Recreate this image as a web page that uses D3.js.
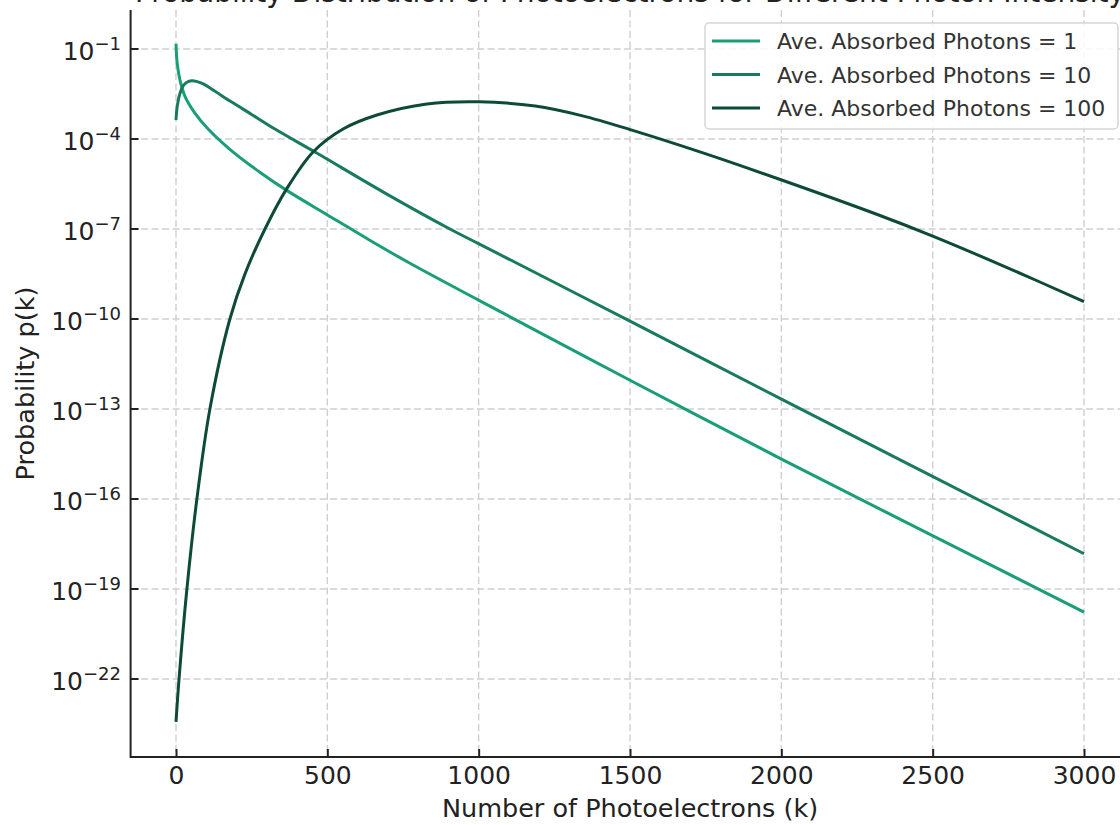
<!DOCTYPE html>
<html>
<head>
<meta charset="utf-8">
<script src="https://cdn.jsdelivr.net/npm/d3@7"></script>
<style>
  body { margin: 0; background: #fff; }
  svg { display: block; font-family: "DejaVu Sans", sans-serif; }
</style>
</head>
<body>
<div id="chart"></div>
<script>
/* ---------- data ---------- */
let seriesNames = ["Ave. Absorbed Photons = 1", "Ave. Absorbed Photons = 10", "Ave. Absorbed Photons = 100"];
let seriesColors = ["#1a9e77", "#187a5e", "#0d4a38"];

let kLight = [0, 4, 13, 30, 63, 107, 173, 277, 367, 499, 631, 773, 1001, 1500, 2002, 2501, 3000];
let pLight = [1.5e-1, 3.3e-2, 9.3e-3, 2.6e-3, 7.2e-4, 2.1e-4, 5.0e-5, 7.8e-6, 1.9e-6, 3.0e-7, 4.8e-8, 7.2e-9, 4.2e-10, 9.1e-13, 2.1e-15, 5.9e-18, 1.7e-20];

let kMid = [0, 4, 13, 24, 36, 52, 70, 90, 129, 184, 250, 327, 465, 685, 905, 1001, 1500, 2002, 2501, 3000];
let pMid = [4.3e-4, 1.2e-3, 3.3e-3, 6.0e-3, 7.8e-3, 8.7e-3, 8.2e-3, 6.9e-3, 3.9e-3, 1.7e-3, 6.6e-4, 2.15e-4, 3.4e-5, 1.7e-6, 1.0e-7, 3.2e-8, 8.5e-11, 2.1e-13, 5.6e-16, 1.5e-18];

let kDark = [0, 10, 36, 69, 112, 178, 228, 294, 367, 453, 552, 664, 829, 1001, 1187, 1340, 1498, 1751, 2001, 2315, 2500, 2738, 3000];
let pDark = [3.7e-24, 1e-22, 1e-19, 1e-16, 1e-13, 1e-10, 3.2e-9, 1e-7, 2.3e-6, 3.7e-5, 2.15e-4, 6.3e-4, 1.47e-3, 1.74e-3, 1.25e-3, 6.0e-4, 2.1e-4, 3.2e-5, 4.3e-6, 3.1e-7, 5.8e-8, 5.6e-9, 3.8e-10];

let xTicks = [0, 500, 1000, 1500, 2000, 2500, 3000];
let yTickExps = [-1, -4, -7, -10, -13, -16, -19, -22];

let titleText = "Probability Distribution of Photoelectrons for Different Photon Intensity";
let xLabel = "Number of Photoelectrons (k)";
let yLabel = "Probability p(k)";

/* ---------- canvas ---------- */
let width = 1120, height = 825;
let plot = {left: 130.6, right: 1129.4, top: 10, bottom: 757};

let svg = d3.select("#chart").append("svg")
    .attr("width", width)
    .attr("height", height);

let xScale = d3.scaleLinear().domain([-150, 3150]).range([plot.left, plot.right]);
let yScale = d3.scaleLog().domain([Math.pow(10, -24.6), Math.pow(10, 0.3)]).range([plot.bottom, plot.top]);

// grid
let grid = svg.append("g").attr("stroke", "#cfcfcf").attr("stroke-width", 1.4).attr("stroke-dasharray", "7,3.5");
xTicks.forEach(function (t) {
  grid.append("line").attr("x1", xScale(t)).attr("x2", xScale(t)).attr("y1", plot.top).attr("y2", plot.bottom);
});
yTickExps.forEach(function (e) {
  let y = yScale(Math.pow(10, e));
  grid.append("line").attr("x1", plot.left).attr("x2", width).attr("y1", y).attr("y2", y);
});

// curves
let allSeries = [
  kLight.map(function (k, i) { return {k: k, p: pLight[i]}; }),
  kMid.map(function (k, i) { return {k: k, p: pMid[i]}; }),
  kDark.map(function (k, i) { return {k: k, p: pDark[i]}; })
];

let line = d3.line()
    .x(function (d) { return xScale(d.k); })
    .y(function (d) { return yScale(d.p); })
    .curve(d3.curveCatmullRom.alpha(0.5));

allSeries.forEach(function (s, i) {
  svg.append("path")
     .datum(s)
     .attr("fill", "none")
     .attr("stroke", seriesColors[i])
     .attr("stroke-width", 3)
     .attr("stroke-linejoin", "round")
     .attr("d", line);
});

// axes (ticks pointing inward, left + bottom spines only)
let xAxis = d3.axisBottom(xScale).tickValues(xTicks).tickSize(-8).tickPadding(12).tickFormat(d3.format("d"));
let gx = svg.append("g").attr("transform", "translate(0," + plot.bottom + ")").call(xAxis);
gx.select(".domain").remove();
gx.selectAll(".tick line").attr("stroke", "#222").attr("stroke-width", 2);
gx.selectAll(".tick text").attr("font-size", 25).attr("fill", "#222")
  .attr("font-family", "DejaVu Sans").attr("dy", null).attr("y", 27);

svg.append("line").attr("x1", plot.left).attr("x2", width).attr("y1", plot.bottom).attr("y2", plot.bottom)
   .attr("stroke", "#222").attr("stroke-width", 2);
svg.append("line").attr("x1", plot.left).attr("x2", plot.left).attr("y1", plot.top).attr("y2", plot.bottom + 1)
   .attr("stroke", "#222").attr("stroke-width", 2);

let yAxisG = svg.append("g");
yTickExps.forEach(function (e) {
  let y = yScale(Math.pow(10, e));
  yAxisG.append("line").attr("x1", plot.left).attr("x2", plot.left + 8).attr("y1", y).attr("y2", y)
        .attr("stroke", "#222").attr("stroke-width", 2);
  let t = yAxisG.append("text").attr("x", 121).attr("y", y + 11)
        .attr("text-anchor", "end").attr("fill", "#222").attr("font-size", 25);
  t.append("tspan").text("10");
  t.append("tspan").attr("dy", -10).attr("font-size", 18).text("\u2212" + Math.abs(e));
});

// labels
svg.append("text").attr("x", (plot.left + plot.right) / 2).attr("y", 817)
   .attr("text-anchor", "middle").attr("font-size", 25.5).attr("fill", "#222").text(xLabel);
svg.append("text").attr("transform", "translate(34," + ((plot.top + plot.bottom) / 2) + ") rotate(-90)")
   .attr("text-anchor", "middle").attr("font-size", 25.5).attr("fill", "#222").text(yLabel);
// title sits mostly above the visible area, as in the cropped reference
svg.append("text").attr("x", (plot.left + plot.right) / 2).attr("y", 1.5)
   .attr("text-anchor", "middle").attr("font-size", 28).attr("fill", "#222").text(titleText);

// legend
let legend = svg.append("g");
legend.append("rect").attr("x", 705).attr("y", 23).attr("width", 413).attr("height", 106)
      .attr("rx", 4).attr("fill", "#fff").attr("fill-opacity", 0.85)
      .attr("stroke", "#d6d6d6").attr("stroke-width", 1.5);
seriesNames.forEach(function (name, i) {
  let y = 41 + i * 33.5;
  legend.append("line").attr("x1", 712).attr("x2", 760).attr("y1", y).attr("y2", y)
        .attr("stroke", seriesColors[i]).attr("stroke-width", 3);
  legend.append("text").attr("x", 777).attr("y", y + 8).attr("font-size", 22).attr("fill", "#333").text(name);
});
</script>
</body>
</html>
